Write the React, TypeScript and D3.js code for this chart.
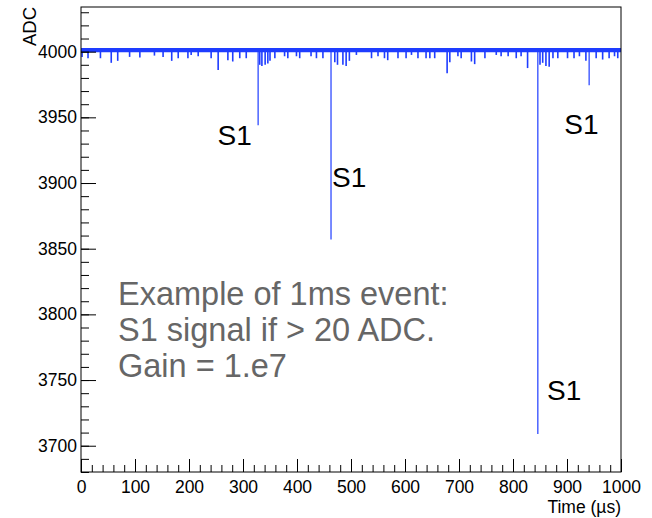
import React, { useEffect, useRef } from 'react';
import * as d3 from 'd3';

// pulse times (us) and lowest ADC reading of each dip
const spikeTimes = [
  2, 13, 36, 56, 68, 90, 109, 136, 152, 168, 180, 198,
  204, 217, 241, 254, 272, 281, 294, 306, 328, 331, 335, 341, 346, 350, 359, 377, 383, 399,
  405, 426, 436, 448, 463, 470, 475, 485, 491, 497, 510, 538, 550, 562, 568, 587, 602,
  612, 624, 639, 646, 655, 678, 683, 698, 704, 723, 729, 748, 769, 778, 791, 806,
  815, 827, 846, 850, 855, 861, 867, 874, 883, 901, 913, 923, 935, 941, 954, 966, 978, 988, 994,
];
const spikeMins = [
  3996, 3995, 3995, 3991.5, 3993, 3996, 3995.5, 3997, 3996, 3993, 3995, 3995,
  3997.5, 3996.5, 3995, 3986, 3993.5, 3992.5, 3995, 3995, 3944, 3990, 3989, 3990, 3991, 3993, 3995, 3996.5, 3995, 3996.5,
  3995, 3996.5, 3995, 3995, 3857, 3992, 3990, 3990, 3989, 3993, 3997.5, 3995, 3996.5, 3995, 3993.5, 3995, 3995,
  3997.5, 3995, 3995, 3995, 3995, 3983.5, 3992, 3996.5, 3995, 3992.5, 3990.5, 3995, 3997.5, 3996.5, 3996.5, 3995,
  3996.5, 3987.5, 3709, 3990, 3991.5, 3989, 3988.5, 3995, 3995, 3995, 3995, 3996.5, 3993, 3974.5, 3995, 3994, 3995, 3996.5, 3995,
];
// pedestal noise band
const bandLow = 3999.5;
const bandHigh = 4002.7;

const xMajor = [0, 100, 200, 300, 400, 500, 600, 700, 800, 900, 1000];
const yMajor = [3700, 3750, 3800, 3850, 3900, 3950, 4000];

const s1Labels = [
  { t: 253, v: 3929 },
  { t: 465, v: 3897 },
  { t: 895, v: 3937 },
  { t: 863, v: 3735 },
];
const noteLines = ['Example of 1ms event:', 'S1 signal if > 20 ADC.', 'Gain = 1.e7'];

const W = 652;
const H = 518;
const font = '"Liberation Sans", Arial, sans-serif';

export default function App() {
  const ref = useRef(null);

  useEffect(() => {
    const svg = d3.select(ref.current);
    svg.selectAll('*').remove();

    const margin = { top: 7, right: 31, bottom: 46, left: 81 };
    const x = d3.scaleLinear().domain([0, 1000]).range([margin.left, W - margin.right]);
    const y = d3.scaleLinear().domain([3680, 4034]).range([H - margin.bottom, margin.top]);
    const blue = '#1e3cff';

    // baseline band
    const area = d3.area<number>()
      .x(d => x(d))
      .y0(y(bandLow))
      .y1(y(bandHigh));
    svg.append('path').datum([0, 1000]).attr('d', area).attr('fill', blue);

    // dips
    svg.append('g')
      .selectAll('line')
      .data(spikeTimes)
      .join('line')
      .attr('x1', d => x(d))
      .attr('x2', d => x(d))
      .attr('y1', y(4000))
      .attr('y2', (d, i) => y(spikeMins[i]))
      .attr('stroke', blue)
      .attr('stroke-width', (d, i) => (spikeMins[i] < 3980 ? 1.2 : 1.6));

    // y axis
    const yMinor = d3.range(3680, 4034, 10);
    svg.append('g')
      .attr('transform', `translate(${margin.left},0)`)
      .call(d3.axisLeft(y).tickValues(yMinor).tickSizeInner(-8).tickSizeOuter(0).tickFormat(() => ''))
      .call(g => g.select('.domain').remove());
    svg.append('g')
      .attr('transform', `translate(${margin.left},0)`)
      .call(d3.axisLeft(y).tickValues(yMajor).tickSizeInner(-15).tickSizeOuter(0).tickPadding(4).tickFormat(d3.format('d')))
      .call(g => g.select('.domain').remove())
      .call(g => g.selectAll('text').attr('font-size', 17.5).attr('font-family', font).attr('fill', '#000'));

    // x axis
    const xMinor = d3.range(0, 1001, 20);
    svg.append('g')
      .attr('transform', `translate(0,${H - margin.bottom})`)
      .call(d3.axisBottom(x).tickValues(xMinor).tickSizeInner(-7).tickSizeOuter(0).tickFormat(() => ''))
      .call(g => g.select('.domain').remove());
    svg.append('g')
      .attr('transform', `translate(0,${H - margin.bottom})`)
      .call(d3.axisBottom(x).tickValues(xMajor).tickSizeInner(-13).tickSizeOuter(0).tickPadding(9).tickFormat(d3.format('d')))
      .call(g => g.select('.domain').remove())
      .call(g => g.selectAll('text').attr('font-size', 17.5).attr('font-family', font).attr('fill', '#000'));

    // frame
    svg.append('rect')
      .attr('x', margin.left)
      .attr('y', margin.top)
      .attr('width', W - margin.left - margin.right)
      .attr('height', H - margin.top - margin.bottom)
      .attr('fill', 'none')
      .attr('stroke', '#000')
      .attr('stroke-width', 1);

    // axis titles
    svg.append('text')
      .attr('transform', `translate(36,${margin.top}) rotate(-90)`)
      .attr('text-anchor', 'end')
      .attr('font-family', font)
      .attr('font-size', 18.5)
      .text('ADC');
    svg.append('text')
      .attr('x', W - margin.right)
      .attr('y', 513)
      .attr('text-anchor', 'end')
      .attr('font-family', font)
      .attr('font-size', 17.5)
      .text('Time (\u00b5s)');

    // S1 tags
    svg.append('g')
      .selectAll('text')
      .data(s1Labels)
      .join('text')
      .attr('x', d => x(d.t))
      .attr('y', d => y(d.v))
      .attr('font-family', font)
      .attr('font-size', 28)
      .attr('fill', '#000')
      .text('S1');

    // note
    svg.append('g')
      .selectAll('text')
      .data(noteLines)
      .join('text')
      .attr('x', 118)
      .attr('y', (d, i) => 305 + i * 36)
      .attr('font-family', font)
      .attr('font-size', 32.5)
      .attr('fill', '#666')
      .text(d => d);
  }, []);

  return (
    <svg
      ref={ref}
      width={W}
      height={H}
      style={{ position: 'fixed', left: 0, top: 0, background: '#fff' }}
    />
  );
}
